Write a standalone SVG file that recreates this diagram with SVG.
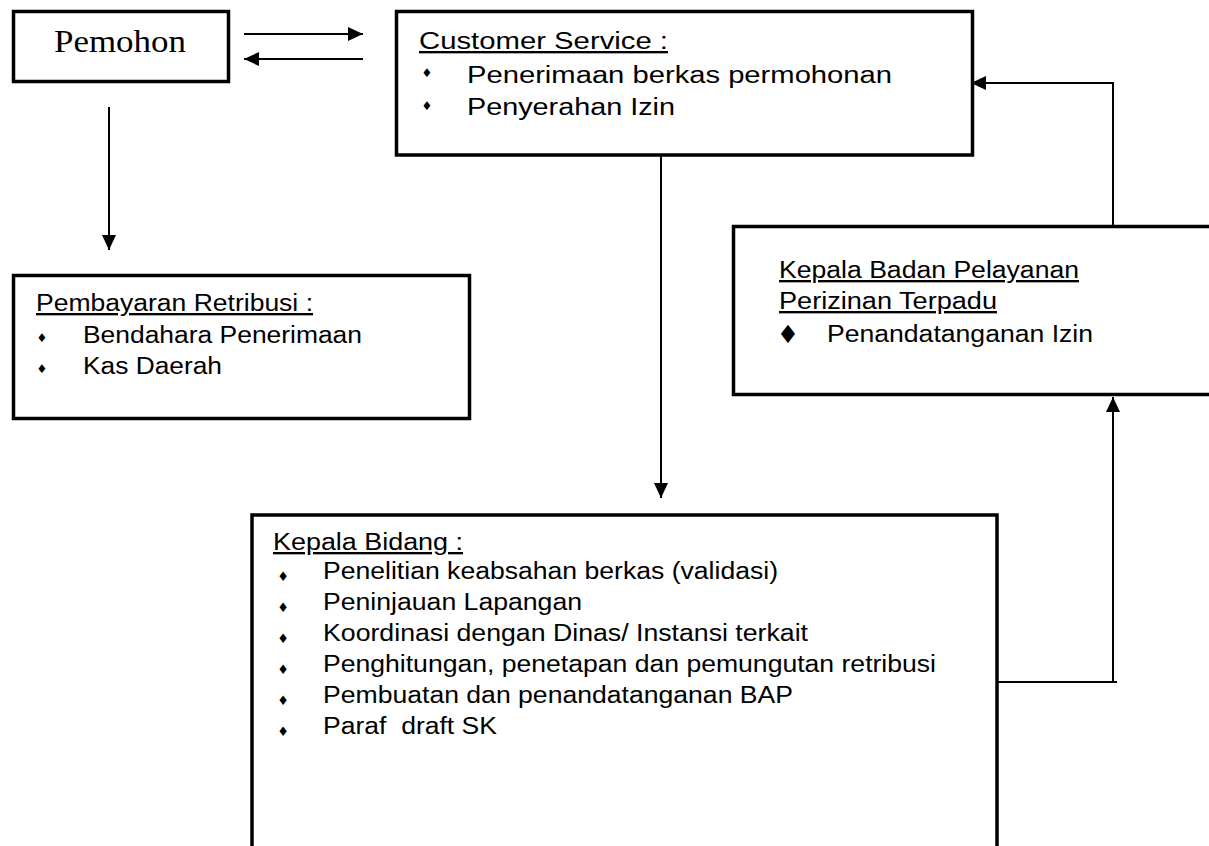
<svg xmlns="http://www.w3.org/2000/svg" width="1209" height="846" viewBox="0 0 1209 846">
<style>
.box{fill:#fff;stroke:#000;stroke-width:3.5}
.t{font-family:"Liberation Sans",Arial,sans-serif;font-size:23.5px;fill:#000}
.h{text-decoration:underline}
.serif{font-family:"Liberation Serif","Times New Roman",serif;font-size:32px;fill:#000}
.b{font-family:"DejaVu Sans",sans-serif;fill:#000;text-anchor:middle;dominant-baseline:central}
.c{fill:none;stroke:#000;stroke-width:2}
</style>
<defs>
<marker id="ah" viewBox="0 0 15 14" refX="15" refY="7" markerWidth="15" markerHeight="14" markerUnits="userSpaceOnUse" orient="auto"><path d="M0,0 L15,7 L0,14 z" fill="#000"/></marker>
</defs>
<rect width="1209" height="846" fill="#fff"/>
<g id="connectors">
<line class="c" x1="244" y1="34" x2="363" y2="34" marker-end="url(#ah)"/>
<line class="c" x1="363" y1="59" x2="244" y2="59" marker-end="url(#ah)"/>
<line class="c" x1="109" y1="107" x2="109" y2="250" marker-end="url(#ah)"/>
<line class="c" x1="661" y1="156" x2="661" y2="498" marker-end="url(#ah)"/>
<polyline class="c" points="998,682 1117,682"/>
<line class="c" x1="1113" y1="682" x2="1113" y2="397" marker-end="url(#ah)"/>
<polyline class="c" points="1113,226 1113,83 971,83" marker-end="url(#ah)"/>
</g>
<g id="pemohon">
<rect class="box" x="13.5" y="11.5" width="215" height="70"/>
<text class="serif" x="54" y="52" textLength="132" lengthAdjust="spacingAndGlyphs">Pemohon</text>
</g>
<g id="customer-service">
<rect class="box" x="396.5" y="11.5" width="576" height="143.5"/>
<text class="t h" x="419" y="49" textLength="249" lengthAdjust="spacingAndGlyphs">Customer Service :</text>
<text class="b" x="427" y="73" font-size="12">♦</text>
<text class="t" x="467" y="83" textLength="425" lengthAdjust="spacingAndGlyphs">Penerimaan berkas permohonan</text>
<text class="b" x="427" y="106" font-size="12">♦</text>
<text class="t" x="467" y="115" textLength="208" lengthAdjust="spacingAndGlyphs">Penyerahan Izin</text>
</g>
<g id="pembayaran">
<rect class="box" x="13.5" y="275.5" width="456" height="143"/>
<text class="t h" x="36" y="311" textLength="277" lengthAdjust="spacingAndGlyphs">Pembayaran Retribusi :</text>
<text class="b" x="42" y="338" font-size="12">♦</text>
<text class="t" x="83" y="343" textLength="279" lengthAdjust="spacingAndGlyphs">Bendahara Penerimaan</text>
<text class="b" x="42" y="369" font-size="12">♦</text>
<text class="t" x="83" y="374" textLength="139" lengthAdjust="spacingAndGlyphs">Kas Daerah</text>
</g>
<g id="kepala-badan">
<rect class="box" x="733.5" y="226.5" width="490" height="168"/>
<text class="t h" x="779" y="278" textLength="300" lengthAdjust="spacingAndGlyphs">Kepala Badan Pelayanan</text>
<text class="t h" x="779" y="309" textLength="218" lengthAdjust="spacingAndGlyphs">Perizinan Terpadu</text>
<text class="b" x="788" y="334" font-size="25">♦</text>
<text class="t" x="827" y="342" textLength="266" lengthAdjust="spacingAndGlyphs">Penandatanganan Izin</text>
</g>
<g id="kepala-bidang">
<rect class="box" x="252" y="515" width="745" height="345"/>
<text class="t h" x="273" y="550" textLength="190" lengthAdjust="spacingAndGlyphs">Kepala Bidang :</text>
<text class="b" x="283" y="576" font-size="13">♦</text>
<text class="t" x="323" y="579" textLength="455" lengthAdjust="spacingAndGlyphs">Penelitian keabsahan berkas (validasi)</text>
<text class="b" x="283" y="607" font-size="13">♦</text>
<text class="t" x="323" y="610" textLength="259" lengthAdjust="spacingAndGlyphs">Peninjauan Lapangan</text>
<text class="b" x="283" y="638" font-size="13">♦</text>
<text class="t" x="323" y="641" textLength="485" lengthAdjust="spacingAndGlyphs">Koordinasi dengan Dinas/ Instansi terkait</text>
<text class="b" x="283" y="669" font-size="13">♦</text>
<text class="t" x="323" y="672" textLength="613" lengthAdjust="spacingAndGlyphs">Penghitungan, penetapan dan pemungutan retribusi</text>
<text class="b" x="283" y="700" font-size="13">♦</text>
<text class="t" x="323" y="703" textLength="470" lengthAdjust="spacingAndGlyphs">Pembuatan dan penandatanganan BAP</text>
<text class="b" x="283" y="731" font-size="13">♦</text>
<text class="t" x="323" y="734" textLength="174" lengthAdjust="spacingAndGlyphs" xml:space="preserve">Paraf  draft SK</text>
</g>
</svg>
